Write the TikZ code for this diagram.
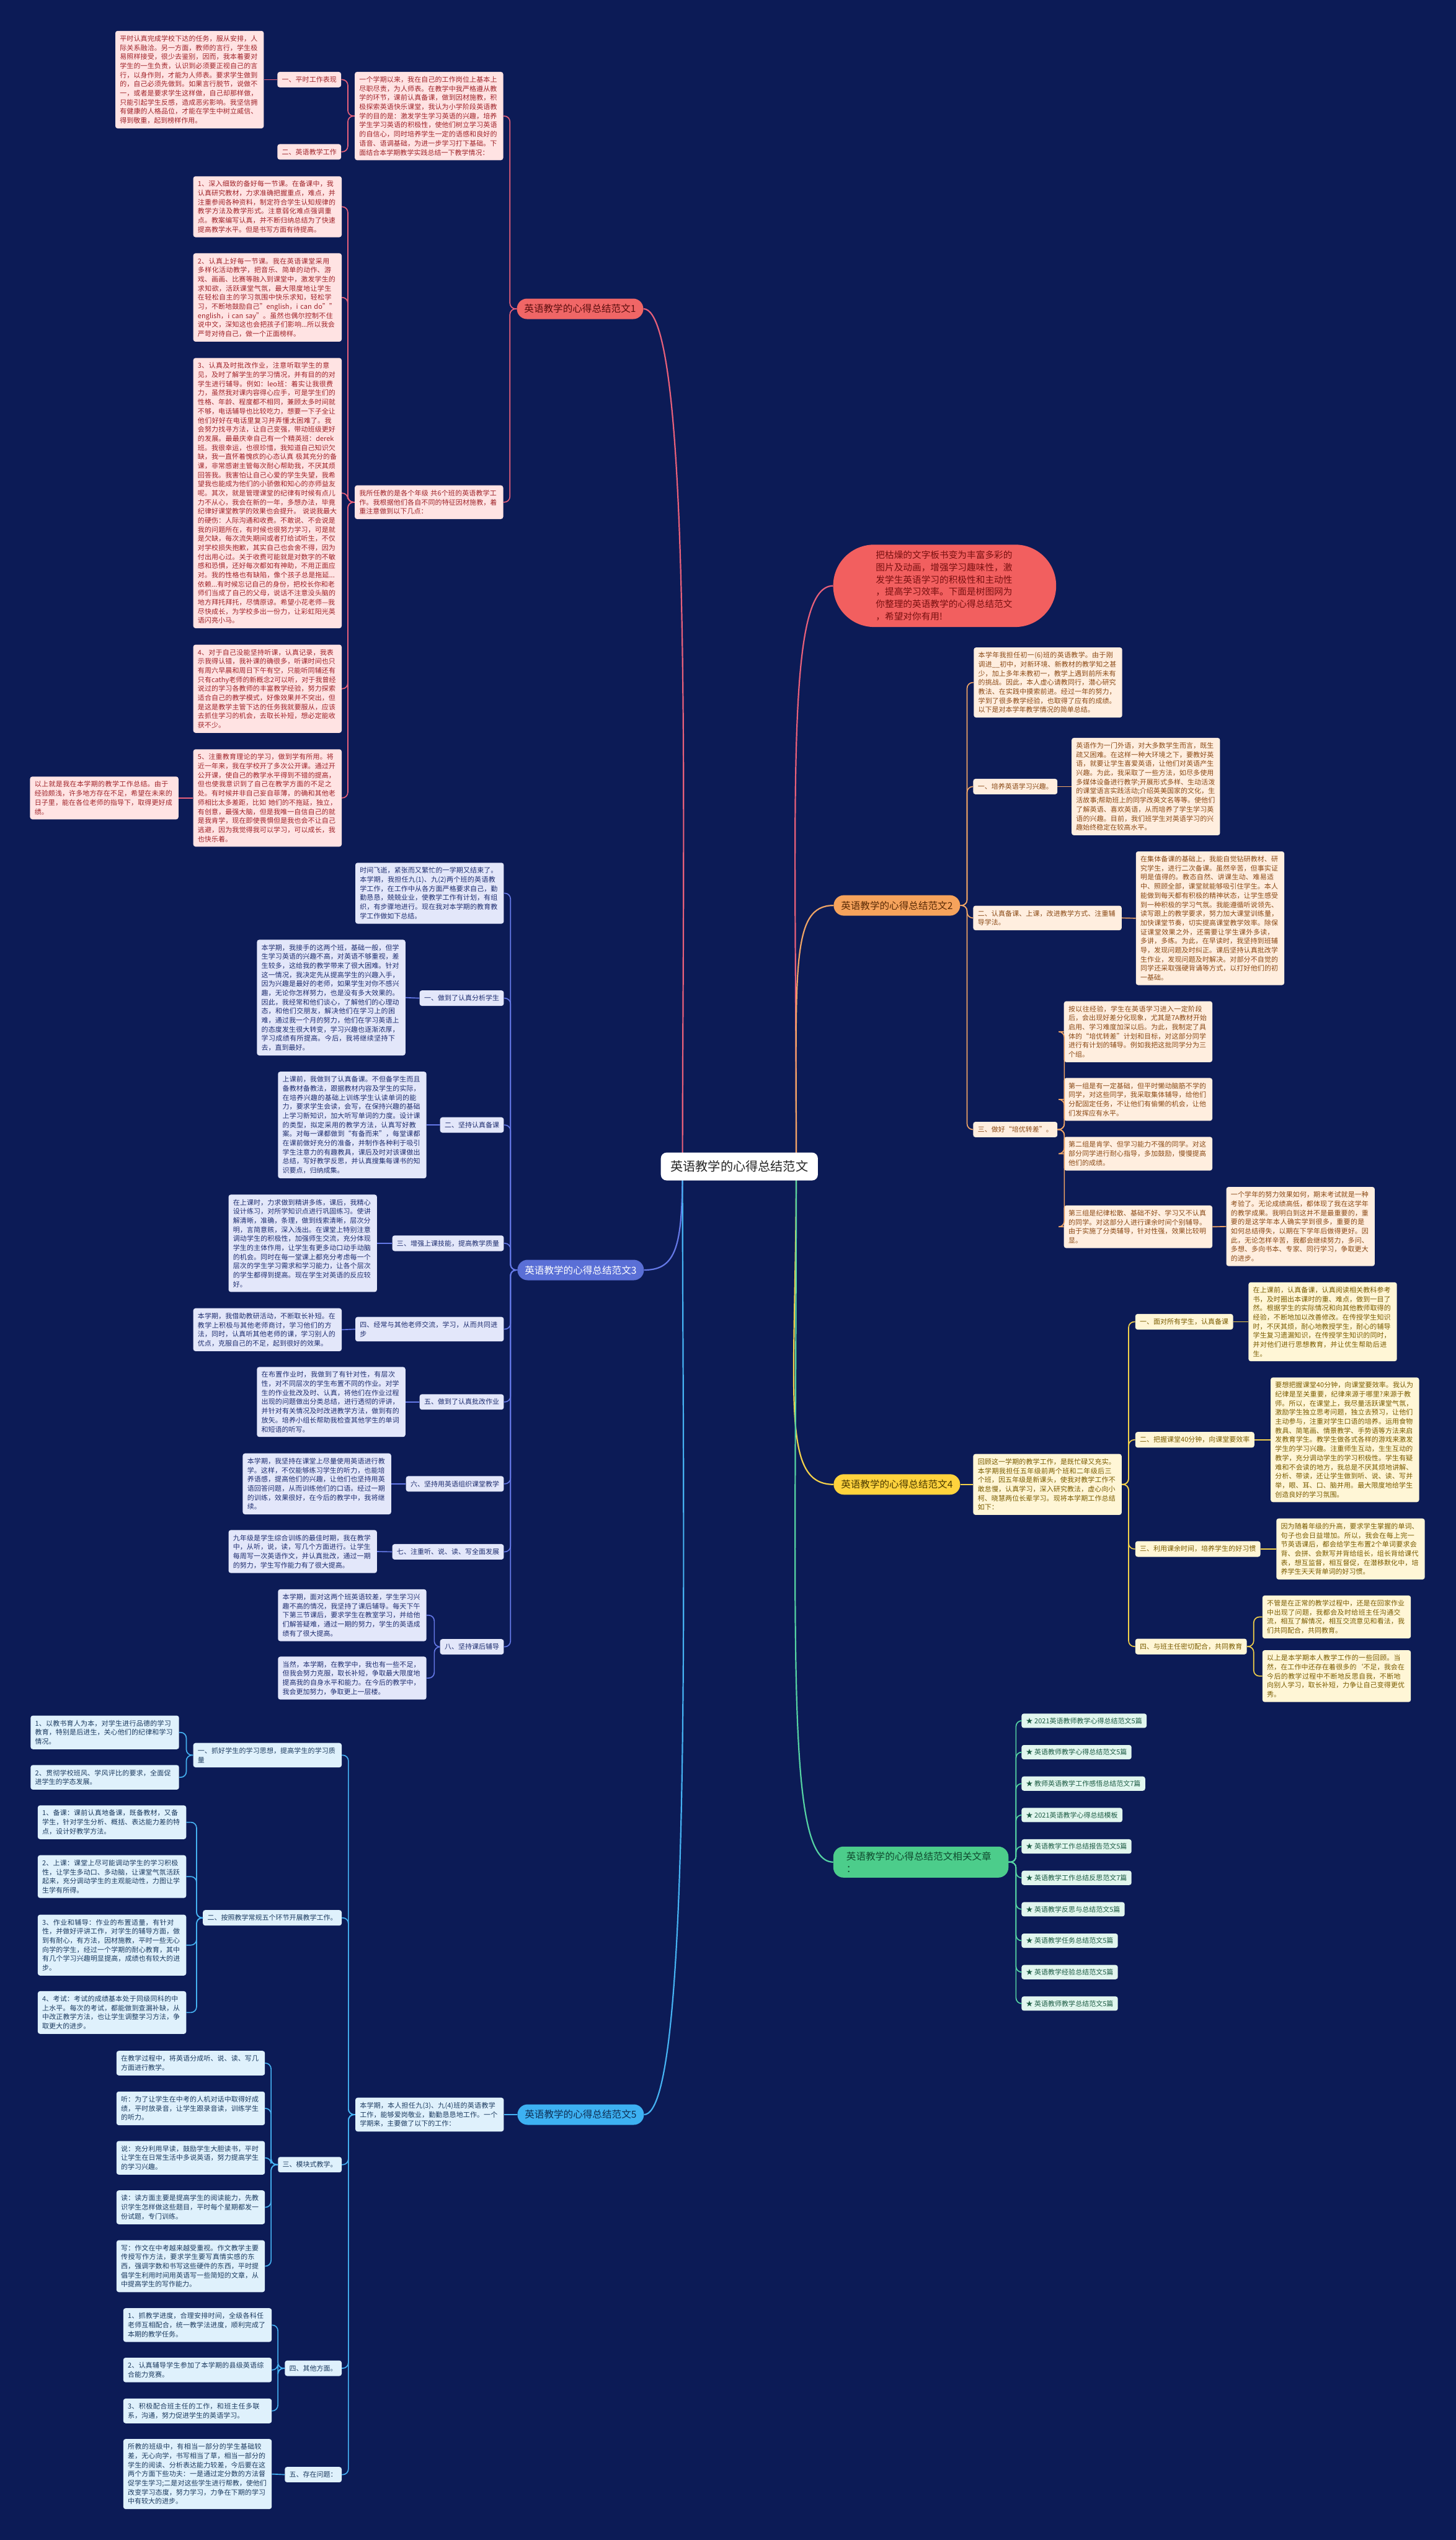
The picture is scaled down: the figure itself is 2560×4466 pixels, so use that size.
\documentclass[tikz,border=0pt]{standalone}
\usepackage{fontspec}
\setmainfont{Noto Sans CJK SC}
\XeTeXlinebreaklocale "zh"
\XeTeXlinebreakskip=0pt plus 1pt
\XeTeXinterchartokenstate=1
\XeTeXinterchartoks 1 3 = {\penalty0 }

\newcommand\boxfont{\fontsize{12}{16}\selectfont}
\newcommand\topicfont{\fontsize{17}{22}\selectfont}
\newcommand\rootfont{\fontsize{22}{26}\selectfont}
\newcommand\introfont{\fontsize{16}{21.5}\selectfont}

\definecolor{bgnavy}{HTML}{0C1B56}
\definecolor{s1top}{HTML}{F06666}\definecolor{s1toptext}{HTML}{5C0F0F}
\definecolor{s1fill}{HTML}{FFE3E3}\definecolor{s1text}{HTML}{A0242A}\definecolor{s1line}{HTML}{E8607A}
\definecolor{s2top}{HTML}{F6A35C}\definecolor{s2toptext}{HTML}{5A2A05}
\definecolor{s2fill}{HTML}{FFEEDF}\definecolor{s2text}{HTML}{8B4A16}\definecolor{s2line}{HTML}{F0A566}
\definecolor{s3top}{HTML}{5A6FD6}\definecolor{s3toptext}{HTML}{FFFFFF}
\definecolor{s3fill}{HTML}{E3E7FA}\definecolor{s3text}{HTML}{1F2E70}\definecolor{s3line}{HTML}{6478E6}
\definecolor{s4top}{HTML}{FFD33D}\definecolor{s4toptext}{HTML}{4A3A00}
\definecolor{s4fill}{HTML}{FFF6D6}\definecolor{s4text}{HTML}{7A5C00}\definecolor{s4line}{HTML}{F3D14A}
\definecolor{s5top}{HTML}{3DB1F2}\definecolor{s5toptext}{HTML}{0E2F55}
\definecolor{s5fill}{HTML}{DFF1FC}\definecolor{s5text}{HTML}{1C3B60}\definecolor{s5line}{HTML}{45B2F2}
\definecolor{s6top}{HTML}{4CCD8B}\definecolor{s6toptext}{HTML}{0F4A2E}
\definecolor{s6fill}{HTML}{E1F6EE}\definecolor{s6text}{HTML}{1D5C44}\definecolor{s6line}{HTML}{55D3A3}
\definecolor{introfill}{HTML}{F25F5F}\definecolor{introtext}{HTML}{7A1010}

\tikzset{
  para/.style={rounded corners=4pt, inner xsep=8pt, inner ysep=8pt, text width=245pt, align=left, font=\boxfont},
  head/.style={rounded corners=4pt, inner xsep=8pt, inner ysep=8pt, align=left, font=\boxfont},
  topic/.style={rounded corners=18pt, minimum height=36pt, inner xsep=13pt, inner ysep=6pt, font=\topicfont},
  sec1/.style={fill=s1fill, text=s1text},
  sec2/.style={fill=s2fill, text=s2text},
  sec3/.style={fill=s3fill, text=s3text},
  sec4/.style={fill=s4fill, text=s4text},
  sec5/.style={fill=s5fill, text=s5text},
  sec6/.style={fill=s6fill, text=s6text},
  link1/.style={draw=s1line, line width=1.8pt, rounded corners=10pt},
  link2/.style={draw=s2line, line width=1.8pt, rounded corners=10pt},
  link3/.style={draw=s3line, line width=1.8pt, rounded corners=10pt},
  link4/.style={draw=s4line, line width=1.8pt, rounded corners=10pt},
  link5/.style={draw=s5line, line width=1.8pt, rounded corners=10pt},
  link6/.style={draw=s6line, line width=1.8pt, rounded corners=10pt}
}

\begin{document}
\begin{tikzpicture}[x=1pt, y=-1pt]
    % Canvas
    \useasboundingbox (0,0) rectangle (2560,4466);
    \fill[bgnavy] (0,0) rectangle (2560,4466);
    \coordinate (hubL) at (1200,2051);
    \coordinate (hubR) at (1400,2051);

    % Section 1
    \node[topic, fill=s1top, text=s1toptext] (t1) at (1020,543) {英语教学的心得总结范文1};
    \node[para, sec1, anchor=east] (t1a) at (885,204) {一个学期以来，我在自己的工作岗位上基本上尽职尽责，为人师表。在教学中我严格遵从教学的环节，课前认真备课，做到因材施教，积极探索英语快乐课堂，我认为小学阶段英语教学的目的是：激发学生学习英语的兴趣，培养学生学习英语的积极性，使他们树立学习英语的自信心，同时培养学生一定的语感和良好的语音、语调基础，为进一步学习打下基础。下面结合本学期教学实践总结一下教学情况：};
    \node[para, sec1, anchor=east] (t1b) at (885,883) {我所任教的是各个年级 共6个班的英语教学工作。我根据他们各自不同的特征因材施教，着重注意做到以下几点：};
    \node[head, sec1, anchor=east] (t1a1) at (600,140) {一、平时工作表现};
    \node[head, sec1, anchor=east] (t1a2) at (600,267) {二、英语教学工作};
    \node[para, sec1, anchor=east] (t1a1x) at (464,140) {平时认真完成学校下达的任务，服从安排，人际关系融洽。另一方面，教师的言行，学生极易照样接受，很少去鉴别，因而，我本着要对学生的一生负责，认识到必须要正视自己的言行，以身作则，才能为人师表。要求学生做到的，自己必须先做到。如果言行脱节，说做不一，或者是要求学生这样做，自己却那样做，只能引起学生反感，造成恶劣影响。我坚信拥有健康的人格品位，才能在学生中树立威信、得到敬重，起到榜样作用。};
    \node[para, sec1, anchor=east] (b1) at (601,363.5) {1、深入细致的备好每一节课。在备课中，我认真研究教材，力求准确把握重点，难点，并注重参阅各种资料，制定符合学生认知规律的教学方法及教学形式。注意弱化难点强调重点。教案编写认真，并不断归纳总结为了快速提高教学水平。但是书写方面有待提高。};
    \node[para, sec1, anchor=east] (b2) at (601,523) {2、认真上好每一节课。我在英语课堂采用多样化活动教学，把音乐、简单的动作、游戏、画画、比赛等融入到课堂中，激发学生的求知欲，活跃课堂气氛，最大限度地让学生在轻松自主的学习氛围中快乐求知，轻松学习，不断地鼓励自己"english，i can do""english，i can say"。虽然也偶尔控制不住说中文，深知这也会把孩子们影响...所以我会严苛对待自己，做一个正面榜样。};
    \node[para, sec1, anchor=east] (b3) at (601,867) {3、认真及时批改作业，注意听取学生的意见，及时了解学生的学习情况，并有目的的对学生进行辅导。例如：leo班：着实让我很费力，虽然我对课内容得心应手，可是学生们的性格、年龄、程度都不相同，兼顾太多时间就不够，电话辅导也比较吃力，想要一下子全让他们好好在电话里复习并弄懂太困难了。我会努力找寻方法，让自己变强，带动班级更好的发展。最最庆幸自己有一个精英班：derek班。我很幸运，也很珍惜，我知道自己知识欠缺，我一直怀着愧疚的心态认真 极其充分的备课，非常感谢主管每次耐心帮助我，不厌其烦回答我。我害怕让自己心爱的学生失望，我希望我也能成为他们的小骄傲和知心的亦师益友呢。其次，就是管理课堂的纪律有时候有点儿力不从心，我会在新的一年，多想办法，毕竟纪律好课堂教学的效果也会提升。 说说我最大的硬伤：人际沟通和收费。不敢说、不会说是我的问题所在，有时候也很努力学习，可是就是欠缺，每次流失期间或者打给试听生，不仅对学校损失抱歉，其实自己也会舍不得，因为付出用心过。关于收费可能就是对数字的不敏感和恐惧，还好每次都如有神助，不用正面应对。我的性格也有缺陷，像个孩子总是拖延...依赖...有时候忘记自己的身份，把校长你和老师们当成了自己的父母，说话不注意没头脑的地方拜托拜托，尽情原谅。希望小花老师—我尽快成长，为学校多出一份力，让彩虹阳光英语闪亮小马。};
    \node[para, sec1, anchor=east] (b4) at (601,1211) {4、对于自己没能坚持听课，认真记录，我表示我得认错，我补课的确很多，听课时间也只有周六早晨和周日下午有空，只能听同辅还有只有cathy老师的新概念2可以听，对于我曾经说过的学习各教师的丰富教学经验，努力探索适合自己的教学模式，好像效果并不突出，但是这是教学主管下达的任务我就要服从，应该去抓住学习的机会，去取长补短，想必定能收获不少。};
    \node[para, sec1, anchor=east] (b5) at (601,1403) {5、注重教育理论的学习，做到学有所用。将近一年来，我在学校开了多次公开课。通过开公开课，使自己的教学水平得到不错的提高，但也使我意识到了自己在教学方面的不足之处。有时候并非自己妄自菲薄，的确和其他老师相比太多差距，比如 她们的不拖延，独立，有创意，最强大脑，但是我唯一自信自己的就是我肯学，现在即使畏惧但是我也会不让自己逃避，因为我觉得我可以学习，可以成长，我也快乐着。};
    \node[para, sec1, anchor=east] (b5x) at (314,1403) {以上就是我在本学期的教学工作总结。由于经验颇浅，许多地方存在不足，希望在未来的日子里，能在各位老师的指导下，取得更好成绩。};
    \foreach \c in {t1a,t1b} \draw[link1] (t1.west) -- ++(-12,0) |- (\c.east);
    \foreach \c in {t1a1,t1a2} \draw[link1] (t1a.west) -- ++(-12,0) |- (\c.east);
    \draw[link1] (t1a1.west) -- (t1a1x.east);
    \foreach \c in {b1,b2,b3,b4,b5} \draw[link1] (t1b.west) -- ++(-12,0) |- (\c.east);
    \draw[link1] (b5.west) -- (b5x.east);

    % Intro
    \node[fill=introfill, text=introtext, rounded corners=72pt, inner xsep=75pt, inner ysep=11pt, text width=242pt, align=left, font=\introfont] (intro) at (1661,1030) {把枯燥的文字板书变为丰富多彩的\\图片及动画，增强学习趣味性，激\\发学生英语学习的积极性和主动性\\，提高学习效率。下面是树图网为\\你整理的英语教学的心得总结范文\\，希望对你有用!};

    % Section 2
    \node[topic, fill=s2top, text=s2toptext] (t2) at (1577,1592) {英语教学的心得总结范文2};
    \node[para, sec2, anchor=west] (s2a) at (1712,1200) {本学年我担任初一(6)班的英语教学。由于刚调进\_\_初中，对新环境、新教材的教学知之甚少，加上多年未教初一，教学上遇到前所未有的挑战。因此，本人虚心请教同行，潜心研究教法、在实践中摸索前进。经过一年的努力，学到了很多教学经验，也取得了应有的成绩。以下是对本学年教学情况的简单总结。};
    \node[head, sec2, anchor=west] (s2b1) at (1711,1383) {一、培养英语学习兴趣。};
    \node[para, sec2, anchor=west] (s2b1x) at (1884,1383) {英语作为一门外语，对大多数学生而言，既生疏又困难。在这样一种大环境之下，要教好英语，就要让学生喜爱英语，让他们对英语产生兴趣。为此，我采取了一些方法，如尽多使用多媒体设备进行教学;开展形式多样、生动活泼的课堂语言实践活动;介绍英美国家的文化，生活故事;帮助班上的同学改英文名等等。使他们了解英语、喜欢英语，从而培养了学生学习英语的兴趣。目前，我们班学生对英语学习的兴趣始终稳定在较高水平。};
    \node[para, sec2, anchor=west] (s2b2) at (1711,1614) {二、认真备课、上课，改进教学方式、注重辅导学法。};
    \node[para, sec2, anchor=west] (s2b2x) at (1997,1614.5) {在集体备课的基础上，我能自觉钻研教材、研究学生，进行二次备课。虽然辛苦，但事实证明是值得的。教态自然、讲课生动、难易适中、照顾全部，课堂就能够吸引住学生。本人能做到每天都有积极的精神状态，让学生感受到一种积极的学习气氛。我能遵循听说领先、读写跟上的教学要求，努力加大课堂训练量，加快课堂节奏，切实提高课堂教学效率。除保证课堂效果之外，还需要让学生课外多读，多讲，多练。为此，在早读时，我坚持到班辅导，发现问题及时纠正。课后坚持认真批改学生作业，发现问题及时解决。对部分不自觉的同学还采取强硬背诵等方式，以打好他们的初一基础。};
    \node[head, sec2, anchor=west] (s2b3) at (1711,1986) {三、做好“培优转差”。};
    \node[para, sec2, anchor=west] (c1) at (1870.5,1814) {按以往经验，学生在英语学习进入一定阶段后，会出现好差分化现象，尤其是7A教材开始启用、学习难度加深以后。为此，我制定了具体的“培优转差”计划和目标，对这部分同学进行有计划的辅导。例如我把这批同学分为三个组。};
    \node[para, sec2, anchor=west] (c2) at (1870.5,1933) {第一组是有一定基础，但平时懒动脑筋不学的同学，对这些同学，我采取集体辅导，给他们分配固定任务，不让他们有偷懒的机会，让他们发挥应有水平。};
    \node[para, sec2, anchor=west] (c3) at (1870.5,2028.5) {第二组是肯学、但学习能力不强的同学。对这部分同学进行耐心指导，多加鼓励，慢慢提高他们的成绩。};
    \node[para, sec2, anchor=west] (c4) at (1870.5,2157) {第三组是纪律松散、基础不好、学习又不认真的同学。对这部分人进行课余时间个别辅导。由于实施了分类辅导，针对性强，效果比较明显。};
    \node[para, sec2, anchor=west] (c4x) at (2156,2156.5) {一个学年的努力效果如何，期末考试就是一种考验了。无论成绩高低，都体现了我在这学年的教学成果。我明白到这并不是最重要的，重要的是这学年本人确实学到很多，重要的是如何总结得失，以期在下学年后做得更好。因此，无论怎样辛苦，我都会继续努力，多问、多想、多向书本、专家、同行学习，争取更大的进步。};
    \foreach \c in {s2a,s2b1,s2b2,s2b3} \draw[link2] (t2.east) -- ++(12,0) |- (\c.west);
    \draw[link2] (s2b1.east) -- (s2b1x.west);
    \draw[link2] (s2b2.east) -- (s2b2x.west);
    \foreach \c in {c1,c2,c3,c4} \draw[link2] (s2b3.east) -- ++(12,0) |- (\c.west);
    \draw[link2] (c4.east) -- (c4x.west);

    % Section 3
    \node[topic, fill=s3top, text=s3toptext] (t3) at (1021,2233) {英语教学的心得总结范文3};
    \node[para, sec3, anchor=east] (s3a) at (886,1570.5) {时间飞逝，紧张而又繁忙的一学期又结束了。本学期，我担任九(1)、九(2)两个班的英语教学工作，在工作中从各方面严格要求自己，勤勤恳恳，兢兢业业，使教学工作有计划，有组织，有步骤地进行。现在我对本学期的教育教学工作做如下总结。};
    \node[head, sec3, anchor=east] (s3b1) at (886,1755) {一、做到了认真分析学生};
    \node[para, sec3, anchor=east] (s3b1x) at (713,1754) {本学期，我接手的这两个班，基础一般，但学生学习英语的兴趣不高，对英语不够重视，差生较多，这给我的教学带来了很大困难。针对这一情况，我决定先从提高学生的兴趣入手，因为兴趣是最好的老师，如果学生对你不感兴趣，无论你怎样努力，也是没有多大效果的。因此，我经常和他们谈心，了解他们的心理动态，和他们交朋友，解决他们在学习上的困难，通过我一个月的努力，他们在学习英语上的态度发生很大转变，学习兴趣也逐渐浓厚，学习成绩有所提高。今后，我将继续坚持下去，直到最好。};
    \node[head, sec3, anchor=east] (s3b2) at (886,1978) {二、坚持认真备课};
    \node[para, sec3, anchor=east] (s3b2x) at (750,1978) {上课前，我做到了认真备课。不但备学生而且备教材备教法，跟据教材内容及学生的实际，在培养兴趣的基础上训练学生认读单词的能力，要求学生会读，会写，在保持兴趣的基础上学习新知识，加大听写单词的力度。设计课的类型，拟定采用的教学方法，认真写好教案。对每一课都做到“有备而来”，每堂课都在课前做好充分的准备，并制作各种利于吸引学生注意力的有趣教具，课后及时对该课做出总结，写好教学反思，并认真搜集每课书的知识要点，归纳成集。};
    \node[head, sec3, anchor=east] (s3b3) at (886,2186) {三、增强上课技能，提高教学质量};
    \node[para, sec3, anchor=east] (s3b3x) at (663,2186) {在上课时，力求做到精讲多练，课后，我精心设计练习，对所学知识点进行巩固练习。使讲解清晰，准确，条理，做到线索清晰，层次分明，言简意赅，深入浅出。在课堂上特别注意调动学生的积极性，加强师生交流，充分体现学生的主体作用，让学生有更多动口动手动脑的机会。同时在每一堂课上都充分考虑每一个层次的学生学习需求和学习能力，让各个层次的学生都得到提高。现在学生对英语的反应较好。};
    \node[para, sec3, anchor=east] (s3b4) at (886,2337) {四、经常与其他老师交流，学习，从而共同进步};
    \node[para, sec3, anchor=east] (s3b4x) at (601,2338) {本学期，我借助教研活动，不断取长补短。在教学上积极与其他老师商讨，学习他们的方法，同时，认真听其他老师的课，学习别人的优点，克服自己的不足，起到很好的效果。};
    \node[head, sec3, anchor=east] (s3b5) at (886,2465) {五、做到了认真批改作业};
    \node[para, sec3, anchor=east] (s3b5x) at (713,2465) {在布置作业时，我做到了有针对性，有层次性，对不同层次的学生布置不同的作业。对学生的作业批改及时、认真，将他们在作业过程出现的问题做出分类总结，进行透彻的评讲，并针对有关情况及时改进教学方法，做到有的放矢。培养小组长帮助我检查其他学生的单词和短语的听写。};
    \node[head, sec3, anchor=east] (s3b6) at (886,2609) {六、坚持用英语组织课堂教学};
    \node[para, sec3, anchor=east] (s3b6x) at (688,2609) {本学期，我坚持在课堂上尽量使用英语进行教学。这样，不仅能够练习学生的听力，也能培养语感，提高他们的兴趣，让他们也坚持用英语回答问题，从而训练他们的口语。经过一期的训练，效果很好，在今后的教学中，我将继续。};
    \node[head, sec3, anchor=east] (s3b7) at (886,2728.5) {七、注重听、说、读、写全面发展};
    \node[para, sec3, anchor=east] (s3b7x) at (663,2728) {九年级是学生综合训练的最佳时期，我在教学中，从听，说，读，写几个方面进行。让学生每周写一次英语作文，并认真批改，通过一期的努力，学生写作能力有了很大提高。};
    \node[head, sec3, anchor=east] (s3b8) at (886,2895.5) {八、坚持课后辅导};
    \node[para, sec3, anchor=east] (e1) at (750,2840) {本学期，面对这两个班英语较差，学生学习兴趣不高的情况，我坚持了课后辅导。每天下午下第三节课后，要求学生在教室学习，并给他们解答疑难，通过一期的努力，学生的英语成绩有了很大提高。};
    \node[para, sec3, anchor=east] (e2) at (750,2950.5) {当然，本学期，在教学中，我也有一些不足，但我会努力克服，取长补短，争取最大限度地提高我的自身水平和能力。在今后的教学中，我会更加努力，争取更上一层楼。};
    \foreach \c in {s3a,s3b1,s3b2,s3b3,s3b4,s3b5,s3b6,s3b7,s3b8} \draw[link3] (t3.west) -- ++(-12,0) |- (\c.east);
    \foreach \i in {1,...,7} \draw[link3] (s3b\i.west) -- (s3b\i x.east);
    \foreach \c in {e1,e2} \draw[link3] (s3b8.west) -- ++(-10,0) |- (\c.east);

    % Section 4
    \node[topic, fill=s4top, text=s4toptext] (t4) at (1577,2610) {英语教学的心得总结范文4};
    \node[para, sec4, anchor=west] (s4a) at (1711,2610) {回顾这一学期的教学工作，是既忙碌又充实。本学期我担任五年级前两个班和二年级后三个班，因五年级是新课头，使我对教学工作不敢怠慢，认真学习，深入研究教法，虚心向小柯、晓慧两位长辈学习。现将本学期工作总结如下：};
    \node[head, sec4, anchor=west] (s4b1) at (1996,2324) {一、面对所有学生，认真备课};
    \node[para, sec4, anchor=west] (s4b1x) at (2195,2324) {在上课前，认真备课，认真阅读相关教科参考书，及时圈出本课时的重、难点，做到一目了然。根据学生的实际情况和向其他教师取得的经验，不断地加以改善修改。在传授学生知识时，不厌其烦，耐心地教授学生，耐心的辅导学生复习遗漏知识，在传授学生知识的同时，并对他们进行思想教育，并让优生帮助后进生。};
    \node[head, sec4, anchor=west] (s4b2) at (1996,2531.5) {二、把握课堂40分钟，向课堂要效率};
    \node[para, sec4, anchor=west] (s4b2x) at (2234,2531.5) {要想把握课堂40分钟，向课堂要效率。我认为纪律是至关重要，纪律来源于哪里?来源于教师。所以，在课堂上，我尽量活跃课堂气氛，激励学生独立思考问题，独立去预习，让他们主动参与，注重对学生口语的培养。运用食物教具、简笔画、情景教学、手势语等方法来启发教育学生。教学生做各式各样的游戏来激发学生的学习兴趣。注重师生互动，生生互动的教学，充分调动学生的学习积极性。学生有疑难和不会读的地方，我总是不厌其烦地讲解、分析、带读，还让学生做到听、说、读、写并举，眼、耳、口、脑并用。最大限度地给学生创造良好的学习氛围。};
    \node[head, sec4, anchor=west] (s4b3) at (1996,2723.5) {三、利用课余时间，培养学生的好习惯};
    \node[para, sec4, anchor=west] (s4b3x) at (2244,2723.5) {因为随着年级的升高，要求学生掌握的单词、句子也会日益增加。所以，我会在每上完一节英语课后，都会给学生布置2个单词要求会背、会拼、会默写并背给组长，组长背给课代表，想互监督，相互督促，在潜移默化中，培养学生天天背单词的好习惯。};
    \node[head, sec4, anchor=west] (s4b4) at (1996,2895) {四、与班主任密切配合，共同教育};
    \node[para, sec4, anchor=west] (d1) at (2219.5,2843) {不管是在正常的教学过程中，还是在回家作业中出现了问题，我都会及时给班主任沟通交流，相互了解情况，相互交流意见和看法，我们共同配合，共同教育。};
    \node[para, sec4, anchor=west] (d2) at (2219.5,2947) {以上是本学期本人教学工作的一些回顾。当然，在工作中还存在着很多的\symbol{96}不足，我会在今后的教学过程中不断地反思自我，不断地向别人学习，取长补短，力争让自己变得更优秀。};
    \draw[link4] (t4.east) -- (s4a.west);
    \foreach \i in {1,...,4} \draw[link4] (s4a.east) -- ++(12,0) |- (s4b\i.west);
    \foreach \i in {1,2,3} \draw[link4] (s4b\i.east) -- (s4b\i x.west);
    \foreach \c in {d1,d2} \draw[link4] (s4b4.east) -- ++(12,0) |- (\c.west);

    % Related articles
    \node[topic, fill=s6top, text=s6toptext, anchor=west, text width=262pt, align=left, inner xsep=23pt, inner ysep=9pt, font=\fontsize{17}{22}\selectfont] (rel) at (1465,3274) {英语教学的心得总结范文相关文章\\：};
    \foreach \t [count=\i] in {2021英语教师教学心得总结范文5篇, 英语教师教学心得总结范文5篇, 教师英语教学工作感悟总结范文7篇, 2021英语教学心得总结模板, 英语教学工作总结报告范文5篇, 英语教学工作总结反思范文7篇, 英语教学反思与总结范文5篇, 英语教学任务总结范文5篇, 英语教学经验总结范文5篇, 英语教师教学总结范文5篇}
        \node[head, sec6, anchor=west, inner ysep=7pt] (r\i) at (1796,{3025.5+55.25*(\i-1)}) {★ \t};
    \foreach \i in {1,...,10} \draw[link6] (rel.east) -- ++(13,0) |- (r\i.west);

    % Section 5
    \node[topic, fill=s5top, text=s5toptext] (t5) at (1021,3718) {英语教学的心得总结范文5};
    \node[para, sec5, anchor=east] (s5a) at (886,3718) {本学期，本人担任九(3)、九(4)班的英语教学工作，能够爱岗敬业，勤勤恳恳地工作。一个学期来，主要做了以下的工作：};
    \node[para, sec5, anchor=east] (s5b1) at (601,3086) {一、抓好学生的学习思想，提高学生的学习质量};
    \node[para, sec5, anchor=east] (f1) at (315,3046) {1、以教书育人为本，对学生进行品德的学习教育，特别是后进生，关心他们的纪律和学习情况。};
    \node[para, sec5, anchor=east] (f2) at (315,3125) {2、贯彻学校班风、学风评比的要求，全面促进学生的学态发展。};
    \node[head, sec5, anchor=east] (s5b2) at (601,3372) {二、按照教学常规五个环节开展教学工作。};
    \node[para, sec5, anchor=east] (g1) at (327.6,3204) {1、备课：课前认真地备课，既备教材，又备学生，针对学生分析、概括、表达能力差的特点，设计好教学方法。};
    \node[para, sec5, anchor=east] (g2) at (327.6,3299.5) {2、上课：课堂上尽可能调动学生的学习积极性，让学生多动口、多动脑，让课堂气氛活跃起来，充分调动学生的主观能动性，力图让学生学有所得。};
    \node[para, sec5, anchor=east] (g3) at (327.6,3420) {3、作业和辅导：作业的布置适量，有针对性，并做好评讲工作，对学生的辅导方面，做到有耐心，有方法，因材施教，平时一些无心向学的学生，经过一个学期的耐心教育，其中有几个学习兴趣明显提高，成绩也有较大的进步。};
    \node[para, sec5, anchor=east] (g4) at (327.6,3538.5) {4、考试：考试的成绩基本处于同级同科的中上水平。每次的考试，都能做到查漏补缺，从中改正教学方法，也让学生调整学习方法，争取更大的进步。};
    \node[head, sec5, anchor=east] (s5b3) at (601,3806) {三、模块式教学。};
    \node[para, sec5, anchor=east] (h1) at (466,3627.5) {在教学过程中，将英语分成听、说、读、写几方面进行教学。};
    \node[para, sec5, anchor=east] (h2) at (466,3707) {听：为了让学生在中考的人机对话中取得好成绩，平时放录音，让学生跟录音读，训练学生的听力。};
    \node[para, sec5, anchor=east] (h3) at (466,3794) {说：充分利用早读，鼓励学生大胆读书，平时让学生在日常生活中多说英语，努力提高学生的学习兴趣。};
    \node[para, sec5, anchor=east] (h4) at (466,3881) {读：读方面主要是提高学生的阅读能力，先教识学生怎样做这些题目，平时每个星期都发一份试题，专门训练。};
    \node[para, sec5, anchor=east] (h5) at (466,3984.5) {写：作文在中考越来越受重视。作文教学主要传授写作方法，要求学生要写真情实感的东西，强调字数和书写这些硬件的东西，平时提倡学生利用时间用英语写一些简短的文章，从中提高学生的写作能力。};
    \node[head, sec5, anchor=east] (s5b4) at (601,4164) {四、其他方面。};
    \node[para, sec5, anchor=east] (i1) at (478,4088) {1、抓教学进度，合理安排时间，全级各科任老师互相配合，统一教学法进度，顺利完成了本期的教学任务。};
    \node[para, sec5, anchor=east] (i2) at (478,4167) {2、认真辅导学生参加了本学期的县级英语综合能力竞赛。};
    \node[para, sec5, anchor=east] (i3) at (478,4239) {3、积极配合班主任的工作，和班主任多联系，沟通，努力促进学生的英语学习。};
    \node[head, sec5, anchor=east] (s5b5) at (601,4351) {五、存在问题：};
    \node[para, sec5, anchor=east] (j1) at (478,4350) {所教的班级中，有相当一部分的学生基础较差，无心向学，书写相当了草，相当一部分的学生的阅读、分析表达能力较差，今后要在这两个方面下些功夫：一是通过定分数的方法督促学生学习;二是对这些学生进行帮教，使他们改变学习态度，努力学习，力争在下期的学习中有较大的进步。};
    \draw[link5] (t5.west) -- (s5a.east);
    \foreach \i in {1,...,5} \draw[link5] (s5a.west) -- ++(-12,0) |- (s5b\i.east);
    \foreach \c in {f1,f2} \draw[link5] (s5b1.west) -- ++(-12,0) |- (\c.east);
    \foreach \c in {g1,g2,g3,g4} \draw[link5] (s5b2.west) -- ++(-11,0) |- (\c.east);
    \foreach \c in {h1,h2,h3,h4,h5} \draw[link5] (s5b3.west) -- ++(-12,0) |- (\c.east);
    \foreach \c in {i1,i2,i3} \draw[link5] (s5b4.west) -- ++(-12,0) |- (\c.east);
    \draw[link5] (s5b5.west) -- (j1.east);

    % Main branches
    \draw[s1line, line width=2.4pt] (hubL) .. controls (1200,1500) and (1220,543) .. (t1.east);
    \draw[s3line, line width=2.4pt] (hubL) .. controls (1200,2190) and (1190,2233) .. (t3.east);
    \draw[s5line, line width=2.4pt] (hubL) .. controls (1200,2700) and (1220,3718) .. (t5.east);
    \draw[s1line, line width=2.4pt] (hubR) .. controls (1400,1400) and (1380,1030) .. (intro.west);
    \draw[s2line, line width=2.4pt] (hubR) .. controls (1400,1700) and (1390,1592) .. (t2.west);
    \draw[s4line, line width=2.4pt] (hubR) .. controls (1400,2450) and (1370,2610) .. (t4.west);
    \draw[s6line, line width=2.4pt] (hubR) .. controls (1400,2900) and (1380,3274) .. (rel.west);

    % Root
    \node[fill=white, text=black!85, rounded corners=10pt, minimum height=49pt, inner xsep=17pt, font=\rootfont] (root) at (1300,2051) {英语教学的心得总结范文};
\end{tikzpicture}
\end{document}
